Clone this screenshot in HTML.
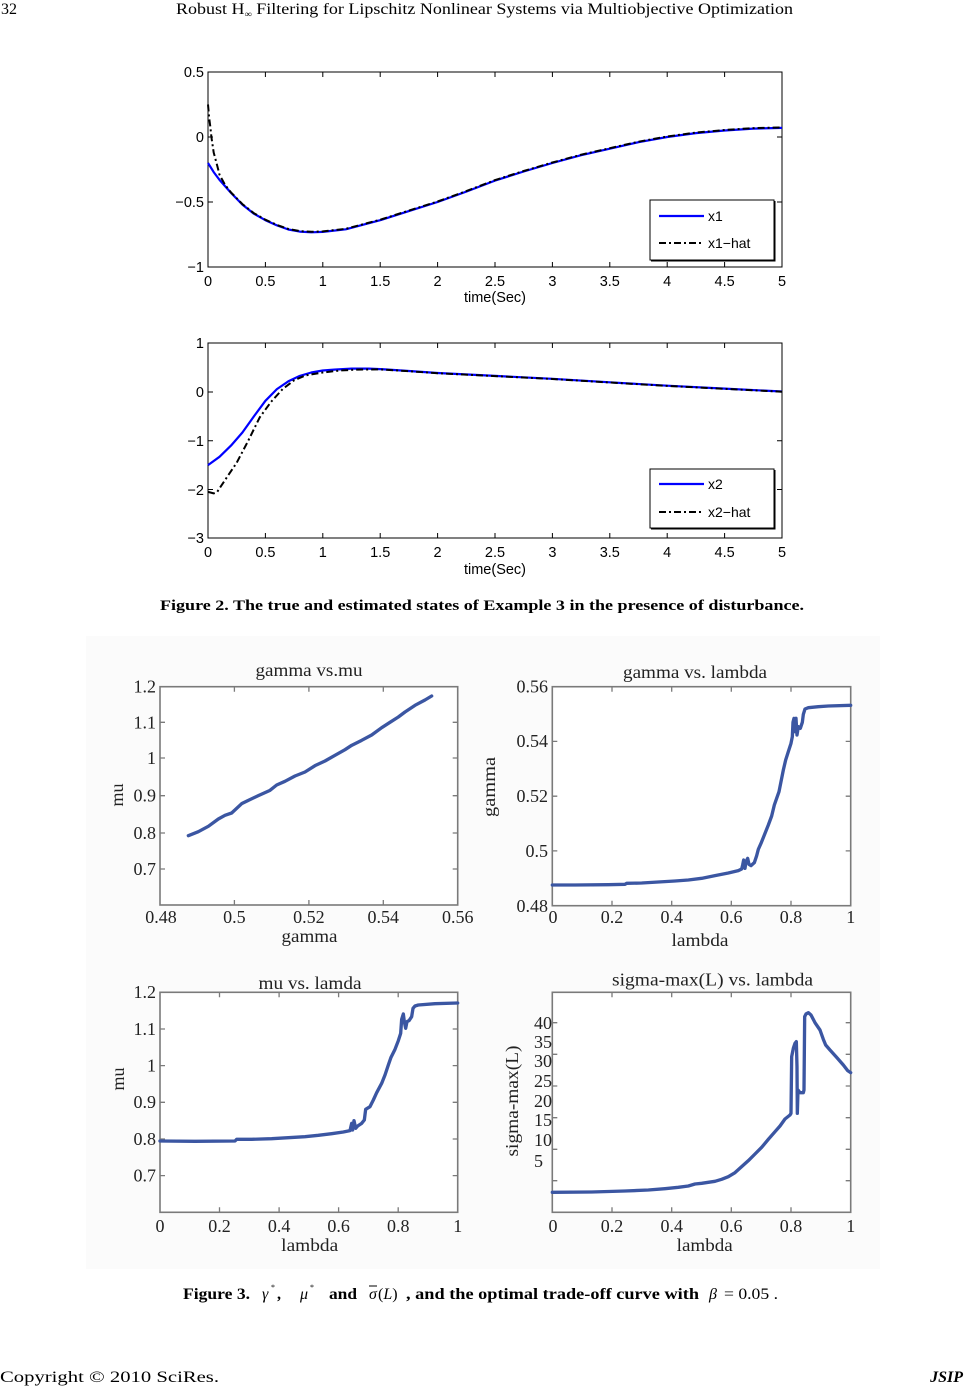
<!DOCTYPE html>
<html>
<head>
<meta charset="utf-8">
<style>
html,body{margin:0;padding:0;background:#fff;}
svg{display:block;}
.s{font-family:"Liberation Sans",sans-serif;}
.r{font-family:"Liberation Serif",serif;}
</style>
</head>
<body>
<svg width="965" height="1386" viewBox="0 0 965 1386" xmlns="http://www.w3.org/2000/svg">
<rect x="0" y="0" width="965" height="1386" fill="#fff"/>

<!-- Header -->
<text class="r" x="1" y="14" font-size="16" fill="#000">32</text>
<text class="r" x="176" y="14" font-size="16" fill="#000" textLength="617" lengthAdjust="spacingAndGlyphs">Robust H<tspan font-size="9" dy="3">∞</tspan><tspan dy="-3"> Filtering for Lipschitz Nonlinear Systems via Multiobjective Optimization</tspan></text>

<!-- ============ FIGURE 2 PLOT 1 ============ -->
<rect x="208" y="72" width="574" height="195" fill="#fff" stroke="#000" stroke-width="1"/>
<path stroke="#000" stroke-width="1" fill="none" d="M265.4 267v-5M322.8 267v-5M380.2 267v-5M437.6 267v-5M495 267v-5M552.4 267v-5M609.8 267v-5M667.2 267v-5M724.6 267v-5
M265.4 72v5M322.8 72v5M380.2 72v5M437.6 72v5M495 72v5M552.4 72v5M609.8 72v5M667.2 72v5M724.6 72v5
M208 137h5M208 202h5M782 137h-5M782 202h-5"/>
<g class="s" font-size="14.5" fill="#000" text-anchor="end">
<text x="204" y="77">0.5</text>
<text x="204" y="142">0</text>
<text x="204" y="207">−0.5</text>
<text x="204" y="272">−1</text>
</g>
<g class="s" font-size="14.5" fill="#000" text-anchor="middle">
<text x="208" y="286">0</text><text x="265.4" y="286">0.5</text><text x="322.8" y="286">1</text><text x="380.2" y="286">1.5</text><text x="437.6" y="286">2</text><text x="495" y="286">2.5</text><text x="552.4" y="286">3</text><text x="609.8" y="286">3.5</text><text x="667.2" y="286">4</text><text x="724.6" y="286">4.5</text><text x="782" y="286">5</text>
<text x="495" y="302">time(Sec)</text>
</g>
<polyline fill="none" stroke="#0000ff" stroke-width="2.2" stroke-linejoin="round" points="208,163 213.7,172.1 219.5,179.9 231,192.9 242.4,204.6 253.9,213.7 265.4,220.2 276.9,225.4 288.4,229.5 299.8,231.6 311.3,232.3 322.8,231.9 345.8,229.3 380.2,220.2 408.9,211.1 437.6,202 466.3,191.6 495,180.6 523.7,171.5 552.4,163 581.1,155.2 609.8,148.7 638.5,142.2 667.2,137 695.9,133.1 724.6,130.5 753.3,128.6 782,127.9"/>
<polyline fill="none" stroke="#000" stroke-width="2" stroke-dasharray="7 3 2 3" stroke-linejoin="round" points="208,104.5 209.1,117.5 210.3,126.6 211.4,137 213.7,152.6 217.2,165.6 219.5,174.7 225.2,185.1 231,192.4 242.4,204.1 253.9,213.2 265.4,219.7 276.9,224.9 288.4,229 299.8,231.1 311.3,231.8 322.8,231.4 345.8,228.8 380.2,219.7 408.9,210.6 437.6,201.5 466.3,191.1 495,180.1 523.7,171 552.4,162.5 581.1,154.7 609.8,148.2 638.5,141.7 667.2,136.5 695.9,132.6 724.6,130 753.3,128.1 782,127.4"/>
<!-- legend 1 -->
<rect x="650" y="200" width="124" height="60" fill="#fff" stroke="#000" stroke-width="1"/>
<path d="M651 261H775V201" stroke="#000" stroke-width="1" fill="none"/>
<line x1="659" y1="216" x2="704" y2="216" stroke="#0000ff" stroke-width="2.2"/>
<line x1="659" y1="243" x2="704" y2="243" stroke="#000" stroke-width="2" stroke-dasharray="7 3 2 3"/>
<text class="s" x="708" y="221" font-size="14" fill="#000">x1</text>
<text class="s" x="708" y="248" font-size="14" fill="#000">x1−hat</text>

<!-- ============ FIGURE 2 PLOT 2 ============ -->
<rect x="208" y="343" width="574" height="195" fill="#fff" stroke="#000" stroke-width="1"/>
<path stroke="#000" stroke-width="1" fill="none" d="M265.4 538v-5M322.8 538v-5M380.2 538v-5M437.6 538v-5M495 538v-5M552.4 538v-5M609.8 538v-5M667.2 538v-5M724.6 538v-5
M265.4 343v5M322.8 343v5M380.2 343v5M437.6 343v5M495 343v5M552.4 343v5M609.8 343v5M667.2 343v5M724.6 343v5
M208 392h5M208 440.75h5M208 489.5h5M782 392h-5M782 440.75h-5M782 489.5h-5"/>
<g class="s" font-size="14.5" fill="#000" text-anchor="end">
<text x="204" y="348">1</text>
<text x="204" y="397">0</text>
<text x="204" y="446">−1</text>
<text x="204" y="495">−2</text>
<text x="204" y="543">−3</text>
</g>
<g class="s" font-size="14.5" fill="#000" text-anchor="middle">
<text x="208" y="557">0</text><text x="265.4" y="557">0.5</text><text x="322.8" y="557">1</text><text x="380.2" y="557">1.5</text><text x="437.6" y="557">2</text><text x="495" y="557">2.5</text><text x="552.4" y="557">3</text><text x="609.8" y="557">3.5</text><text x="667.2" y="557">4</text><text x="724.6" y="557">4.5</text><text x="782" y="557">5</text>
<text x="495" y="574">time(Sec)</text>
</g>
<polyline fill="none" stroke="#0000ff" stroke-width="2.2" stroke-linejoin="round" points="208,465.1 219.5,456.8 231,445.6 242.4,432.5 253.9,416.4 265.4,400.8 276.9,389.1 288.4,381.3 299.8,375.9 311.3,372.5 322.8,370.5 334.3,369.6 351.5,368.6 368.7,368.6 380.2,369.1 408.9,371 437.6,373 495,375.9 552.4,378.8 609.8,382.3 667.2,385.7 724.6,388.6 782,391.5"/>
<polyline fill="none" stroke="#000" stroke-width="2" stroke-dasharray="7 3 2 3" stroke-linejoin="round" points="208,491.9 213.7,493.4 217.2,491.9 225.2,479.8 236.7,462.7 248.2,440.8 259.7,417.4 271.1,401.8 282.6,389.1 294.1,380.3 305.6,375.4 322.8,372.5 340,370.5 357.2,369.6 380.2,369.4 408.9,371.2 437.6,373.2 495,376.1 552.4,379 609.8,382.5 667.2,385.9 724.6,388.8 782,391.7"/>
<!-- legend 2 -->
<rect x="650" y="469" width="124" height="59" fill="#fff" stroke="#000" stroke-width="1"/>
<path d="M651 529H775V470" stroke="#000" stroke-width="1" fill="none"/>
<line x1="659" y1="484" x2="704" y2="484" stroke="#0000ff" stroke-width="2.2"/>
<line x1="659" y1="512" x2="704" y2="512" stroke="#000" stroke-width="2" stroke-dasharray="7 3 2 3"/>
<text class="s" x="708" y="489" font-size="14" fill="#000">x2</text>
<text class="s" x="708" y="517" font-size="14" fill="#000">x2−hat</text>

<!-- Caption fig 2 -->
<text class="r" x="160" y="610" font-size="15" font-weight="bold" fill="#000" textLength="644" lengthAdjust="spacingAndGlyphs">Figure 2. The true and estimated states of Example 3 in the presence of disturbance.</text>

<!-- ============ FIGURE 3 PANEL ============ -->
<rect x="86" y="636" width="794" height="633" fill="#fbfbfb"/>

<!-- TL: gamma vs mu -->
<rect x="160" y="686.7" width="297.7" height="218.3" fill="#fff" stroke="#7a7a7a" stroke-width="1.6"/>
<path stroke="#7a7a7a" stroke-width="1.3" fill="none" d="M160 722.3h5M160 758h5M160 795.7h5M160 833h5M160 869h5M457.7 722.3h-5M457.7 758h-5M457.7 795.7h-5M457.7 833h-5M457.7 869h-5
M234.4 905v-5M308.9 905v-5M383.3 905v-5M234.4 686.7v5M308.9 686.7v5M383.3 686.7v5"/>
<g class="r" font-size="18" fill="#222" text-anchor="end">
<text x="156" y="692.5">1.2</text><text x="156" y="728.5">1.1</text><text x="156" y="764">1</text><text x="156" y="801.5">0.9</text><text x="156" y="839">0.8</text><text x="156" y="875">0.7</text>
</g>
<g class="r" font-size="18" fill="#222" text-anchor="middle">
<text x="161" y="923">0.48</text><text x="234.4" y="923">0.5</text><text x="308.9" y="923">0.52</text><text x="383.3" y="923">0.54</text><text x="457.7" y="923">0.56</text>
<text x="309.5" y="942" textLength="56" lengthAdjust="spacingAndGlyphs">gamma</text>
<text x="309" y="676" textLength="107" lengthAdjust="spacingAndGlyphs">gamma vs.mu</text>
<text transform="translate(123,795) rotate(-90)">mu</text>
</g>
<g transform="translate(85,635) scale(0.33333)">
<polyline fill="none" stroke="#3b56a2" stroke-width="10" stroke-linejoin="round" stroke-linecap="round" points="310,602 340,590 370,574 400,552 420,541 440,534 470,506 490,496 520,482 555,466 575,450 600,439 630,423 660,411 690,392 720,378 750,361 780,344 800,331 830,316 860,300 890,278 915,262 940,246 960,231 990,211 1020,195 1040,183"/>
</g>

<!-- TR: gamma vs lambda -->
<rect x="552.3" y="686.7" width="298.4" height="219" fill="#fff" stroke="#7a7a7a" stroke-width="1.6"/>
<path stroke="#7a7a7a" stroke-width="1.3" fill="none" d="M552.3 741.4h5M552.3 796.2h5M552.3 850.9h5M850.7 741.4h-5M850.7 796.2h-5M850.7 850.9h-5
M612 905.7v-5M671.7 905.7v-5M731.3 905.7v-5M791 905.7v-5M612 686.7v5M671.7 686.7v5M731.3 686.7v5M791 686.7v5"/>
<g class="r" font-size="18" fill="#222" text-anchor="end">
<text x="548" y="692.5">0.56</text><text x="548" y="747">0.54</text><text x="548" y="802">0.52</text><text x="548" y="857">0.5</text><text x="548" y="912">0.48</text>
</g>
<g class="r" font-size="18" fill="#222" text-anchor="middle">
<text x="553" y="923">0</text><text x="612" y="923">0.2</text><text x="671.7" y="923">0.4</text><text x="731.3" y="923">0.6</text><text x="791" y="923">0.8</text><text x="850.7" y="923">1</text>
<text x="700" y="946" textLength="57" lengthAdjust="spacingAndGlyphs">lambda</text>
<text x="695" y="678" textLength="144" lengthAdjust="spacingAndGlyphs">gamma vs. lambda</text>
<text transform="translate(495,787) rotate(-90)" textLength="60" lengthAdjust="spacingAndGlyphs">gamma</text>
</g>
<g transform="translate(475,635) scale(0.33333)">
<polyline fill="none" stroke="#3b56a2" stroke-width="10" stroke-linejoin="round" stroke-linecap="round" points="232,750 300,750 400,749 450,748 455,745 500,744 550,741 600,738 640,735 680,730 720,722 760,714 790,707 800,702 803,690 806,675 810,700 813,680 818,670 822,688 828,692 838,683 845,662 850,643 858,625 870,595 880,570 890,543 898,510 905,490 912,470 918,440 925,405 932,375 940,350 948,325 952,305 954,262 957,250 960,290 963,250 966,300 970,275 976,280 982,262 985,238 990,222 1000,218 1030,215 1060,213 1127,211"/>
</g>

<!-- BL: mu vs lamda -->
<rect x="160" y="992.3" width="297.7" height="220" fill="#fff" stroke="#7a7a7a" stroke-width="1.6"/>
<path stroke="#7a7a7a" stroke-width="1.3" fill="none" d="M160 1029h5M160 1065.6h5M160 1102.3h5M160 1139h5M160 1175.6h5M457.7 1029h-5M457.7 1065.6h-5M457.7 1102.3h-5M457.7 1139h-5M457.7 1175.6h-5
M219.5 1212.3v-5M279.1 1212.3v-5M338.6 1212.3v-5M398.2 1212.3v-5M219.5 992.3v5M279.1 992.3v5M338.6 992.3v5M398.2 992.3v5"/>
<g class="r" font-size="18" fill="#222" text-anchor="end">
<text x="156" y="998">1.2</text><text x="156" y="1035">1.1</text><text x="156" y="1071.5">1</text><text x="156" y="1108">0.9</text><text x="156" y="1145">0.8</text><text x="156" y="1181.5">0.7</text>
</g>
<g class="r" font-size="18" fill="#222" text-anchor="middle">
<text x="160" y="1232">0</text><text x="219.5" y="1232">0.2</text><text x="279.1" y="1232">0.4</text><text x="338.6" y="1232">0.6</text><text x="398.2" y="1232">0.8</text><text x="457.7" y="1232">1</text>
<text x="309.7" y="1251" textLength="57" lengthAdjust="spacingAndGlyphs">lambda</text>
<text x="310" y="989" textLength="103" lengthAdjust="spacingAndGlyphs">mu vs. lamda</text>
<text transform="translate(124,1079) rotate(-90)">mu</text>
</g>
<g transform="translate(85,950) scale(0.33333)">
<polyline fill="none" stroke="#3b56a2" stroke-width="10" stroke-linejoin="round" stroke-linecap="round" points="225,573 330,574 450,573 455,568 500,568 560,566 610,563 660,560 700,556 740,551 775,546 795,542 800,520 803,540 807,512 812,535 818,528 830,520 838,510 842,478 855,470 865,450 875,428 890,400 900,375 910,345 918,322 930,298 940,272 947,250 950,208 955,192 958,215 962,235 966,215 972,212 980,200 984,175 990,168 1000,165 1050,161 1118,159"/>
</g>

<!-- BR: sigma-max(L) vs lambda -->
<rect x="552.3" y="992.3" width="298.4" height="220" fill="#fff" stroke="#7a7a7a" stroke-width="1.6"/>
<path stroke="#7a7a7a" stroke-width="1.3" fill="none" d="M552.3 1022.7h5M552.3 1054.3h5M552.3 1086h5M552.3 1117.7h5M552.3 1149.3h5M552.3 1180.7h5M850.7 1022.7h-5M850.7 1054.3h-5M850.7 1086h-5M850.7 1117.7h-5M850.7 1149.3h-5M850.7 1180.7h-5
M612 1212.3v-5M671.7 1212.3v-5M731.3 1212.3v-5M791 1212.3v-5M612 992.3v5M671.7 992.3v5M731.3 992.3v5M791 992.3v5"/>
<g class="r" font-size="18" fill="#222" text-anchor="start">
<text x="534" y="1029">40</text><text x="534" y="1048">35</text><text x="534" y="1067">30</text><text x="534" y="1087">25</text><text x="534" y="1107">20</text><text x="534" y="1126">15</text><text x="534" y="1146">10</text><text x="534" y="1167">5</text>
</g>
<g class="r" font-size="18" fill="#222" text-anchor="middle">
<text x="553" y="1232">0</text><text x="612" y="1232">0.2</text><text x="671.7" y="1232">0.4</text><text x="731.3" y="1232">0.6</text><text x="791" y="1232">0.8</text><text x="850.7" y="1232">1</text>
<text x="704.7" y="1251" textLength="56" lengthAdjust="spacingAndGlyphs">lambda</text>
<text x="712.5" y="985.5" textLength="201" lengthAdjust="spacingAndGlyphs">sigma-max(L) vs. lambda</text>
<text transform="translate(518,1101) rotate(-90)" textLength="111" lengthAdjust="spacingAndGlyphs">sigma-max(L)</text>
</g>
<g transform="translate(475,950) scale(0.33333)">
<polyline fill="none" stroke="#3b56a2" stroke-width="10" stroke-linejoin="round" stroke-linecap="round" points="232,727 350,726 450,723 520,720 570,716 610,712 640,708 660,702 680,700 700,697 720,694 740,688 760,680 780,668 800,650 820,632 840,612 860,592 880,568 900,545 915,528 930,507 945,495 948,490 950,320 955,295 960,280 964,275 966,350 967,490 969,420 975,428 985,428 987,420 989,200 993,192 1000,188 1008,195 1020,218 1035,240 1045,268 1052,285 1065,300 1085,322 1105,345 1118,362 1127,368"/>
</g>

<!-- Caption fig 3 -->
<g class="r" font-size="16" fill="#000">
<text x="183" y="1299" font-weight="bold" textLength="67" lengthAdjust="spacingAndGlyphs">Figure 3.</text>
<text x="262" y="1299" font-style="italic">γ</text>
<text x="271" y="1290" font-size="8">*</text>
<text x="277" y="1299" font-weight="bold">,</text>
<text x="300" y="1299" font-style="italic">μ</text>
<text x="310" y="1290" font-size="8">*</text>
<text x="329" y="1299" font-weight="bold" textLength="28" lengthAdjust="spacingAndGlyphs">and</text>
<text x="369" y="1299" font-style="italic">σ</text>
<line x1="369" y1="1286" x2="377" y2="1286" stroke="#000" stroke-width="1"/>
<text x="378" y="1299">(<tspan font-style="italic">L</tspan>)</text>
<text x="406" y="1299" font-weight="bold" textLength="293" lengthAdjust="spacingAndGlyphs">, and the optimal trade-off curve with</text>
<text x="709" y="1299" font-style="italic">β</text>
<text x="724" y="1299" textLength="54" lengthAdjust="spacingAndGlyphs">= 0.05 .</text>
</g>

<!-- Footer -->
<text class="r" x="0" y="1382" font-size="16" fill="#000" textLength="219" lengthAdjust="spacingAndGlyphs">Copyright © 2010 SciRes.</text>
<text class="r" x="963" y="1382" font-size="16" font-weight="bold" font-style="italic" fill="#000" text-anchor="end">JSIP</text>
</svg>
</body>
</html>
